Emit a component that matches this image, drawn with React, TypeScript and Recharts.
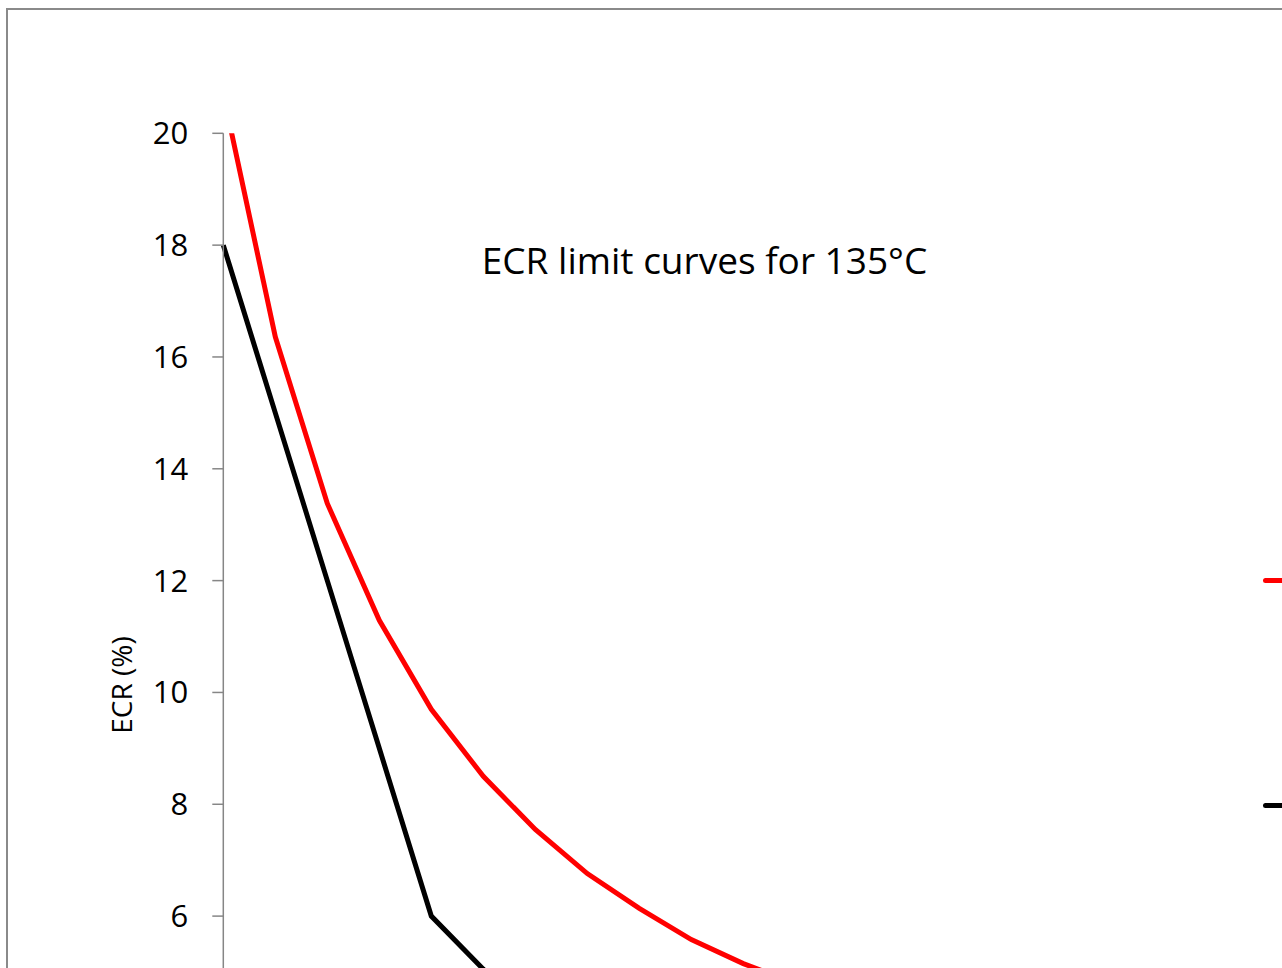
import React from 'react';
import { LineChart, Line, XAxis, YAxis, Customized } from 'recharts';

// hydrogen content (wppm) and ECR limit (%)
const hydrogen = [0, 50, 100, 150, 200, 250, 300, 350, 400, 450, 500, 550];
const redLimit = [20.7, 16.36, 13.38, 11.29, 9.7, 8.5, 7.55, 6.76, 6.14, 5.58, 5.15, 4.8];
const blackLimit = [18, 15, 12, 9, 6, 5.05, 4.3, null, null, null, null, null];
const yTicks = [0, 2, 4, 6, 8, 10, 12, 14, 16, 18, 20];

const seriesNames = ['BJ-ECR limit', 'CP-ECR limit'];
const seriesColors = ['#ff0000', '#000000'];

const data = hydrogen.map((h, i) => ({ h, red: redLimit[i], black: blackLimit[i] }));

const FONT = '"Open Sans", sans-serif';

function Title() {
  return (
    <text x={696.5} y={264} textAnchor="middle" fontFamily={FONT} fontSize={37} fill="#000">
      ECR limit curves for 135°C
    </text>
  );
}

function AxisTitle() {
  return (
    <text
      x={123.7}
      y={675}
      transform="rotate(-90, 123.7, 675)"
      textAnchor="middle"
      fontFamily={FONT}
      fontSize={28}
      fill="#000"
    >
      ECR (%)
    </text>
  );
}

export default function App() {
  return (
    <div style={{ position: 'fixed', left: 6, top: 8, width: 1276, height: 960, overflow: 'hidden' }}>
      <div
        style={{
          position: 'absolute',
          left: 0,
          top: 0,
          width: 1600,
          height: 1400,
          borderLeft: '2px solid #8a8a8a',
          borderTop: '2px solid #8a8a8a',
          background: '#fff',
        }}
      >
        <LineChart
          width={1600}
          height={1400}
          data={data}
          margin={{ top: 123.3, right: 396.7, bottom: 98.4, left: 0 }}
        >
          <XAxis
            dataKey="h"
            type="number"
            domain={[0, 950]}
            ticks={[0, 100, 200, 300, 400, 500, 600, 700, 800, 900]}
            height={60}
            stroke="#868686"
            tick={{ fontFamily: FONT, fontSize: 31, fill: '#000' }}
          />
          <YAxis
            type="number"
            domain={[0, 20]}
            ticks={yTicks}
            allowDataOverflow
            width={215.3}
            tickSize={11}
            tickMargin={24}
            axisLine={{ stroke: '#868686', strokeWidth: 1.5 }}
            tickLine={{ stroke: '#868686', strokeWidth: 1.5 }}
            tick={{ fontFamily: FONT, fontSize: 31, fill: '#000' }}
          />
          <Line
            dataKey="red"
            name={seriesNames[0]}
            stroke={seriesColors[0]}
            strokeWidth={5}
            dot={false}
            isAnimationActive={false}
          />
          <Line
            dataKey="black"
            name={seriesNames[1]}
            stroke={seriesColors[1]}
            strokeWidth={5}
            dot={false}
            isAnimationActive={false}
          />
          <Customized component={Title} />
          <Customized component={AxisTitle} />
        </LineChart>
        {seriesNames.map((name, i) => (
          <div
            key={name}
            style={{
              position: 'absolute',
              left: 1255,
              top: i === 0 ? 545 : 770,
              display: 'flex',
              alignItems: 'center',
              fontFamily: FONT,
              fontSize: 28,
              height: 50,
              whiteSpace: 'nowrap',
            }}
          >
            <span
              style={{
                display: 'inline-block',
                width: 44,
                height: 5,
                borderRadius: 3,
                background: seriesColors[i],
                marginRight: 12,
              }}
            />
            <span>{name}</span>
          </div>
        ))}
      </div>
    </div>
  );
}
